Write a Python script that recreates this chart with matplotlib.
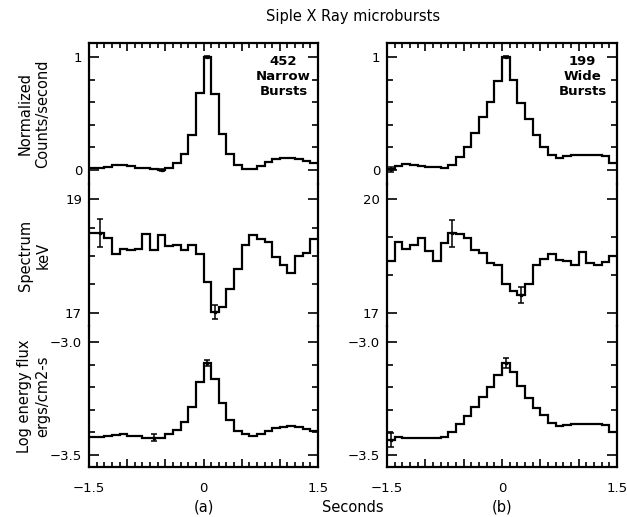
import numpy as np
import matplotlib
matplotlib.use("Agg")
import matplotlib.pyplot as plt
from matplotlib.ticker import MultipleLocator

plt.rcParams['font.family'] = ['DejaVu Sans']

# ---- data (30 bins of 0.1 s from -1.5 to 1.5) ----
time_edges = np.round(np.arange(-1.5, 1.5001, 0.1), 2)
time_centers = (time_edges[:-1] + time_edges[1:]) / 2

narrow_counts = [0.02, 0.02, 0.025, 0.04, 0.04, 0.035, 0.02, 0.015, 0.005, 0.0,
                 0.02, 0.06, 0.14, 0.31, 0.68, 1.0, 0.67, 0.32, 0.14, 0.04,
                 0.01, 0.01, 0.035, 0.07, 0.10, 0.105, 0.105, 0.10, 0.08, 0.06]
narrow_spectrum = [18.40, 18.40, 18.31, 18.03, 18.12, 18.10, 18.13, 18.38, 18.10, 18.36,
                   18.17, 18.19, 18.10, 18.19, 18.04, 17.54, 17.02, 17.10, 17.42, 17.77,
                   18.20, 18.36, 18.30, 18.25, 17.99, 17.85, 17.70, 18.00, 18.05, 18.30]
narrow_flux = [-3.422, -3.422, -3.418, -3.410, -3.406, -3.415, -3.418, -3.424, -3.424, -3.424,
               -3.409, -3.388, -3.353, -3.288, -3.176, -3.094, -3.162, -3.272, -3.346, -3.394,
               -3.409, -3.415, -3.406, -3.394, -3.382, -3.375, -3.372, -3.375, -3.385, -3.395]

wide_counts = [0.005, 0.035, 0.05, 0.047, 0.035, 0.03, 0.024, 0.018, 0.04, 0.115,
               0.20, 0.33, 0.47, 0.60, 0.79, 1.0, 0.80, 0.59, 0.45, 0.31,
               0.20, 0.13, 0.11, 0.12, 0.135, 0.135, 0.135, 0.135, 0.125, 0.065]
wide_spectrum = [18.37, 18.88, 18.68, 18.79, 18.97, 18.64, 18.37, 18.85, 19.10, 19.08,
                 18.98, 18.66, 18.59, 18.31, 18.26, 17.77, 17.57, 17.47, 17.77, 18.26,
                 18.42, 18.55, 18.39, 18.37, 18.26, 18.61, 18.32, 18.26, 18.35, 18.51]
wide_flux = [-3.434, -3.422, -3.424, -3.424, -3.424, -3.424, -3.424, -3.420, -3.400, -3.363,
             -3.326, -3.287, -3.243, -3.199, -3.144, -3.093, -3.135, -3.196, -3.246, -3.290,
             -3.324, -3.360, -3.372, -3.368, -3.362, -3.362, -3.362, -3.362, -3.368, -3.397]

# error bars: (bin index, half-size)
narrow_err = [[(9, 0.01), (15, 0.01)], [(1, 0.25), (16, 0.12)], [(8, 0.016), (15, 0.013)]]
wide_err = [[(0, 0.02), (15, 0.01)], [(8, 0.36), (17, 0.22)], [(0, 0.03), (15, 0.02)]]

row_labels = ["Normalized\nCounts/second", "Spectrum\nkeV", "Log energy flux\nergs/cm2-s"]
panel_notes = ["452\nNarrow\nBursts", "199\nWide\nBursts"]
panel_tags = ["(a)", "(b)"]

narrow_yticks = [([0, 1], ["0", "1"]), ([17, 19], ["17", "19"]), ([-3.5, -3.0], ["\u22123.5", "\u22123.0"])]
wide_yticks = [([0, 1], ["0", "1"]), ([17, 20], ["17", "20"]), ([-3.5, -3.0], ["\u22123.5", "\u22123.0"])]
narrow_ylim = [(-0.127, 1.124), (16.777, 19.258), (-3.553, -2.928)]
wide_ylim = [(-0.127, 1.124), (16.666, 20.387), (-3.553, -2.928)]
narrow_minor = [0.2, 0.5, 0.1]
wide_minor = [0.2, 1.0, 0.1]

W, H = 627, 517
fig = plt.figure(figsize=(W / 100, H / 100), dpi=100)

def fx(px):
    return px / W

def fy(py):
    return 1 - py / H

top_px, bot_px = 43, 467
row_h = (bot_px - top_px) / 3
cols = [(89, 318), (387, 617)]

datasets = [
    (narrow_counts, narrow_spectrum, narrow_flux, narrow_err, narrow_yticks, narrow_ylim, narrow_minor),
    (wide_counts, wide_spectrum, wide_flux, wide_err, wide_yticks, wide_ylim, wide_minor),
]

lw = 1.6
for ci, (x0, x1) in enumerate(cols):
    c_counts, c_spec, c_flux, c_err, c_ticks, c_lim, c_minor = datasets[ci]
    series = [c_counts, c_spec, c_flux]
    for ri in range(3):
        y_top = top_px + ri * row_h
        y_bot = y_top + row_h
        ax = fig.add_axes([fx(x0), fy(y_bot), fx(x1 - x0), (y_bot - y_top) / H])
        vals = np.array(series[ri])
        ax.stairs(vals, time_edges, baseline=None, color='black', lw=lw)
        for (bi, e) in c_err[ri]:
            ax.errorbar([time_centers[bi]], [vals[bi]], yerr=[e], fmt='s', ms=1.8,
                        color='black', ecolor='black', elinewidth=1.1, capsize=2.2, capthick=1.1)
        ax.set_xlim(-1.5, 1.5)
        ax.set_ylim(*c_lim[ri])
        ticks, labels = c_ticks[ri]
        ax.set_yticks(ticks)
        ax.set_yticklabels(labels, fontsize=9.5)
        ax.yaxis.set_minor_locator(MultipleLocator(c_minor[ri]))
        ax.xaxis.set_major_locator(MultipleLocator(0.5))
        ax.xaxis.set_minor_locator(MultipleLocator(0.1))
        ax.tick_params(axis='y', which='both', direction='in', left=True, right=True, width=1.2)
        ax.tick_params(axis='y', which='major', length=7, pad=5)
        ax.tick_params(axis='y', which='minor', length=4)
        for s in ax.spines.values():
            s.set_linewidth(lw)
        if ri == 0:
            ax.spines['bottom'].set_visible(False)
            ax.tick_params(axis='x', which='both', direction='in', top=True, bottom=False,
                           labelbottom=False, width=1.2)
        elif ri == 1:
            ax.spines['bottom'].set_visible(False)
            ax.spines['top'].set_visible(False)
            ax.tick_params(axis='x', which='both', top=False, bottom=False, labelbottom=False)
        else:
            ax.spines['top'].set_visible(False)
            ax.tick_params(axis='x', which='both', direction='in', top=False, bottom=True,
                           width=1.2, pad=11)
            ax.set_xticks([-1.5, -1.0, -0.5, 0, 0.5, 1.0, 1.5])
            ax.set_xticklabels(["\u22121.5", "", "", "0", "", "", "1.5"], fontsize=9.5)
        ax.tick_params(axis='x', which='major', length=6)
        ax.tick_params(axis='x', which='minor', length=3.5)
        ax.patch.set_alpha(0)
        if ri == 0:
            ax.text(0.85, 0.76, panel_notes[ci], transform=ax.transAxes, ha='center', va='center',
                    fontsize=9.5, fontweight='bold', linespacing=1.2)

# row labels
for ri, lab in enumerate(row_labels):
    yc = top_px + (ri + 0.5) * row_h
    fig.text(fx(34), fy(yc), lab, rotation=90, ha='center', va='center', fontsize=10.5,
             linespacing=1.25)

fig.text(fx(353), fy(17), "Siple X Ray microbursts", ha='center', va='center', fontsize=10.5)
fig.text(fx(204), fy(507), panel_tags[0], ha='center', va='center', fontsize=10.5)
fig.text(fx(353), fy(507), "Seconds", ha='center', va='center', fontsize=10.5)
fig.text(fx(502), fy(507), panel_tags[1], ha='center', va='center', fontsize=10.5)

fig.savefig("out.png", dpi=100)
